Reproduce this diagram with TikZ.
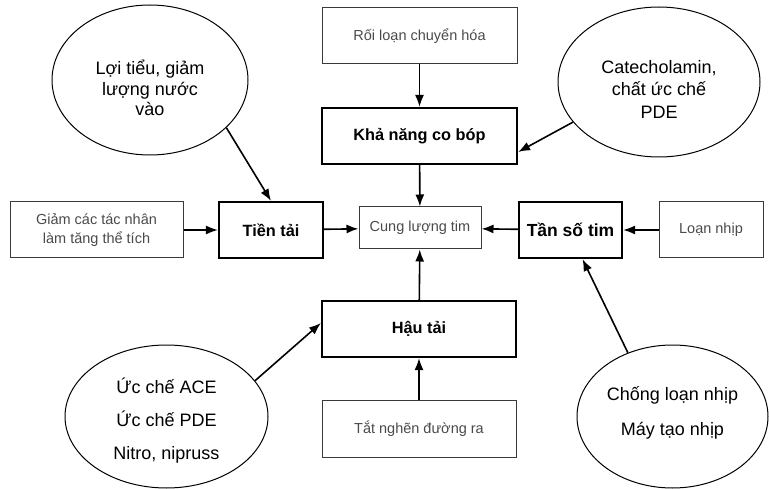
\documentclass[tikz,border=0pt]{standalone}
\usepackage{fontspec}
\setmainfont{Liberation Sans}
\usetikzlibrary{arrows.meta,shapes.geometric,calc}
\definecolor{graytxt}{HTML}{4A4A4A}
\definecolor{grayline}{HTML}{3A3A3A}
\tikzset{
  thinbox/.style={draw=grayline,line width=1pt,rectangle,inner sep=0pt,align=center,
    text=graytxt,font=\fontsize{14.5}{18}\selectfont},
  thickbox/.style={draw=black,line width=2.2pt,rectangle,inner sep=0pt,align=center,
    font=\fontsize{16.3}{20}\selectfont\bfseries},
  oval/.style={draw=black,line width=1pt,ellipse,inner sep=0pt,align=center},
  arr/.style={line width=1.6pt,-{Latex[length=12pt,width=9pt]}},
}
\begin{document}
\begin{tikzpicture}[x=1pt,y=-1pt]
\useasboundingbox (0,0) rectangle (769,489);
% boxes
\node[thinbox,minimum width=195pt,minimum height=56pt] (rl) at (419.5,36) {Rối loạn chuyển hóa};
\node[thickbox,minimum width=195pt,minimum height=56pt] (kn) at (419.5,136) {Khả năng co bóp};
\node[thinbox,minimum width=122pt,minimum height=42pt] (cl) at (420,228) {Cung lượng tim};
\node[thickbox,minimum width=104pt,minimum height=56pt] (tt) at (271,230) {Tiền tải};
\node[thinbox,minimum width=173pt,minimum height=56pt,font=\fontsize{14.5}{19}\selectfont] (gc) at (96.5,230) {Giảm các tác nhân\\làm tăng thể tích};
\node[thickbox,minimum width=103pt,minimum height=56pt,font=\fontsize{17.5}{20}\selectfont\bfseries] (ts) at (570.5,230) {Tần số tim};
\node[thinbox,minimum width=104pt,minimum height=56pt] (ln) at (711,230) {Loạn nhịp};
\node[thickbox,minimum width=194pt,minimum height=56pt] (ht) at (419,329) {Hậu tải};
\node[thinbox,minimum width=194pt,minimum height=57pt] (tn) at (419,428.5) {Tắt nghẽn đường ra};
% ellipses
\node[oval,minimum width=196pt,minimum height=150pt,
  label={[font=\fontsize{18}{20.5}\selectfont,align=center,yshift=-8pt]center:Lợi tiểu, giảm\\lượng nước\\vào}] (lt) at (150,80) {};
\node[oval,minimum width=202pt,minimum height=150pt,
  label={[font=\fontsize{18}{22.5}\selectfont,align=center,yshift=-7pt]center:Catecholamin,\\chất ức chế\\PDE}] (ca) at (659,82) {};
\node[oval,minimum width=203pt,minimum height=143pt,
  label={[font=\fontsize{18}{33}\selectfont,align=center,yshift=-4pt]center:Ức chế ACE\\Ức chế PDE\\Nitro, nipruss}] (uc) at (166.5,416.5) {};
\node[oval,minimum width=191pt,minimum height=143pt,
  label={[font=\fontsize{18}{35}\selectfont,align=center,yshift=4pt]center:Chống loạn nhịp\\Máy tạo nhịp}] (cn) at (672.5,416.5) {};
% connectors
\draw[arr] (rl) -- (kn);
\draw[arr] (kn) -- (cl);
\draw[arr] (tt) -- (cl);
\draw[arr] (ts) -- (cl);
\draw[arr] (ht) -- (cl);
\draw[arr] (gc) -- (tt);
\draw[arr] (ln) -- (ts);
\draw[arr] (tn) -- (ht);
\draw[arr] (lt.-32) -- (tt.north);
\draw[arr] (ca.205) -- ($(kn.east)+(0,16)$);
\draw[arr] (uc.22) -- ($(ht.west)+(0,-6)$);
\draw[arr] (cn.125) -- ($(ts.south)+(12,0)$);
\end{tikzpicture}
\end{document}
